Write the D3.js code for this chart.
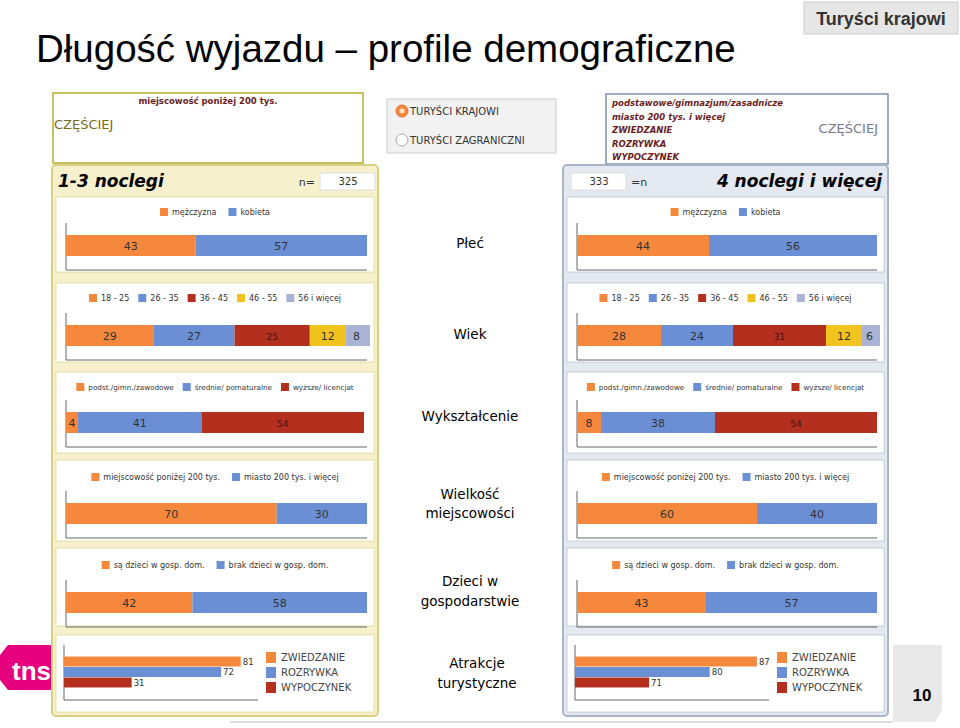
<!DOCTYPE html><html><head><meta charset="utf-8"><script src="https://cdn.jsdelivr.net/npm/d3@7"></script>
<style>body{margin:0;background:#fff}svg{font-family:"DejaVu Sans",Verdana,sans-serif}</style></head><body><svg id="c" width="960" height="728"></svg>
<script>
const sections=["Płeć","Wiek","Wykształcenie","Wielkość miejscowości","Dzieci w gospodarstwie"];
const legends=[["mężczyzna","kobieta"],["18 - 25","26 - 35","36 - 45","46 - 55","56 i więcej"],["podst./gimn./zawodowe","średnie/ pomaturalne","wyższe/ licencjat"],["miejscowość poniżej 200 tys.","miasto 200 tys. i więcej"],["są dzieci w gosp. dom.","brak dzieci w gosp. dom."]];
const shortVals=[[43,57],[29,27,25,12,8],[4,41,54],[70,30],[42,58]];
const longVals=[[44,56],[28,24,31,12,6],[8,38,54],[60,40],[43,57]];
const attrCats=["ZWIEDZANIE","ROZRYWKA","WYPOCZYNEK"];
const attrShort=[81,72,31];
const attrLong=[87,80,71];
const nShort=325,nLong=333;
const colors=["#f5883c","#6a8fd4","#b3301e","#f0c31e","#a9b3d6"];
const svg=d3.select("#c");
svg.append("text").attr("x",36).attr("y",62).attr("font-family","Liberation Sans,Arial").attr("font-size",38.5).text("Długość wyjazdu – profile demograficzne");
svg.append("rect").attr("x",804).attr("y",2).attr("width",154).attr("height",32).attr("fill","#e6e6e6").attr("stroke","#ccc");
svg.append("text").attr("x",881).attr("y",25).attr("text-anchor","middle").attr("font-family","Liberation Sans,Arial").attr("font-weight","bold").attr("font-size",18).attr("fill","#333").text("Turyści krajowi");
svg.append("path").attr("d","M8,645 L52,645 L52,690 L8,690 L0,680 L0,655Z").attr("fill","#e6007e");
svg.append("text").attr("x",12).attr("y",680).attr("fill","#fff").attr("font-family","Liberation Sans,Arial").attr("font-weight","bold").attr("font-size",26).text("tns");
svg.append("path").attr("d","M893,645 L942,645 L942,710 L935,722 L893,722Z").attr("fill","#e8e8e8");
svg.append("text").attr("x",922).attr("y",701).attr("text-anchor","middle").attr("font-family","Liberation Sans,Arial").attr("font-weight","bold").attr("font-size",17).text("10");
svg.append("line").attr("x1",230).attr("x2",893).attr("y1",722).attr("y2",722).attr("stroke","#ddd").attr("stroke-width",2);
const lb=svg.append("g");
lb.append("rect").attr("x",53).attr("y",93).attr("width",310).attr("height",70).attr("fill","#fff").attr("stroke","#c8c060").attr("stroke-width",2);
lb.append("text").attr("x",208).attr("y",104).attr("text-anchor","middle").attr("font-size",8.5).attr("font-weight","bold").attr("fill","#6b1d1d").text("miejscowość poniżej 200 tys.");
lb.append("text").attr("x",54).attr("y",129).attr("font-size",13).attr("fill","#7a6a1a").text("CZĘŚCIEJ");
const rb=svg.append("g");
rb.append("rect").attr("x",606).attr("y",94).attr("width",282).attr("height",70).attr("fill","#fff").attr("stroke","#8090b0").attr("stroke-width",1.5);
["podstawowe/gimnazjum/zasadnicze","miasto 200 tys. i więcej","ZWIEDZANIE","ROZRYWKA","WYPOCZYNEK"].forEach((t,i)=>rb.append("text").attr("x",612).attr("y",106+i*13.5).attr("font-size",8.5).attr("font-style","italic").attr("font-weight","bold").attr("fill","#6b1d1d").text(t));
rb.append("text").attr("x",878).attr("y",133).attr("text-anchor","end").attr("font-size",13).attr("fill","#778").text("CZĘŚCIEJ");
const mb=svg.append("g");
mb.append("rect").attr("x",387).attr("y",99).attr("width",169).attr("height",54).attr("fill","#f2f2f2").attr("stroke","#ccc");
[["TURYŚCI KRAJOWI",111,true],["TURYŚCI ZAGRANICZNI",140,false]].forEach(([t,y,on])=>{
 mb.append("circle").attr("cx",402).attr("cy",y).attr("r",6).attr("fill",on?"#f5883c":"#fff").attr("stroke",on?"#e07030":"#aaa");
 if(on)mb.append("circle").attr("cx",402).attr("cy",y).attr("r",2.5).attr("fill","#fde0c8");
 mb.append("text").attr("x",410).attr("y",y+4).attr("font-size",10).attr("fill","#333").text(t);});
const centerLbl=[[243],[334],[416],[494,513],[581,601]];
const cl=[["Płeć"],["Wiek"],["Wykształcenie"],["Wielkość","miejscowości"],["Dzieci w","gospodarstwie"]];
cl.forEach((ls,i)=>ls.forEach((t,j)=>svg.append("text").attr("x",470).attr("y",centerLbl[i][j]+5).attr("text-anchor","middle").attr("font-size",13.5).text(t)));
["Atrakcje","turystyczne"].forEach((t,j)=>svg.append("text").attr("x",477).attr("y",668+j*20).attr("text-anchor","middle").attr("font-size",13.5).text(t));
const subY=[[197,272],[283,362],[372,453],[460,541],[548,626],[635,712]];
const barY=[235,325,412,503,592];
const legY=[212,298,387,477,565];
function panel(x0,w,border,fill,vals,attr,title,n,right,dom){
 const g=svg.append("g");
 g.append("rect").attr("x",x0).attr("y",165).attr("width",w).attr("height",551).attr("rx",4).attr("fill",fill).attr("stroke",border).attr("stroke-width",2);
 g.append("text").attr("x",right?x0+w-6:x0+6).attr("y",187).attr("text-anchor",right?"end":"start").attr("font-size",17).attr("font-weight","bold").attr("font-style","italic").text(title);
 const nx=right?x0+8:x0+w-58;
 g.append("rect").attr("x",nx).attr("y",173).attr("width",55).attr("height",17).attr("fill","#fff").attr("stroke","#ddd");
 g.append("text").attr("x",nx+28).attr("y",185).attr("text-anchor","middle").attr("font-size",10).attr("fill","#333").text(n);
 g.append("text").attr("x",right?nx+60:nx-5).attr("y",186).attr("text-anchor",right?"start":"end").attr("font-size",11).attr("fill","#333").text(right?"=n":"n=");
 subY.forEach(([a,b])=>g.append("rect").attr("x",x0+4).attr("y",a).attr("width",w-8).attr("height",b-a).attr("fill","#fff").attr("stroke",border).attr("stroke-opacity",.6));
 const bx0=x0+14,bx1=x0+w-11;
 const x=d3.scaleLinear().domain([0,100]).range([bx0,bx1]);
 vals.forEach((v,i)=>{
  let cum=0;const segs=v.map(d=>{const s={a:cum,b:cum+d,d};cum+=d;return s;});
  const y=barY[i];
  g.append("line").attr("x1",bx0).attr("x2",bx0).attr("y1",y-12).attr("y2",y+35).attr("stroke","#666");
  g.append("line").attr("x1",bx0).attr("x2",bx1).attr("y1",y+35).attr("y2",y+35).attr("stroke","#666");
  segs.forEach((s,k)=>{
   g.append("rect").attr("x",x(s.a)).attr("y",y).attr("width",x(s.b)-x(s.a)).attr("height",21).attr("fill",colors[k]);
   g.append("text").attr("x",(x(s.a)+x(Math.min(s.b,100)))/2).attr("y",y+15).attr("text-anchor","middle").attr("font-size",k==2&&v.length>2?9:11).attr("fill",k==2?"#4a1010":"#333").text(s.d);});
  const items=legends[i],fs=legends[i].length==3?7.2:8;
  const lg=g.append("g");let lx=0;
  items.forEach((t,k)=>{lg.append("rect").attr("x",lx).attr("y",legY[i]-4).attr("width",8).attr("height",8).attr("fill",colors[k]);
   const tt=lg.append("text").attr("x",lx+12).attr("y",legY[i]+3).attr("font-size",fs).attr("fill","#333").text(t);
   lx+=12+tt.node().getComputedTextLength()+(items.length>2?9:12);});
  const tot=lx-(items.length>2?9:12);
  lg.attr("transform",`translate(${x0+w/2-tot/2},0)`);
 });
 const ax=d3.scaleLinear().domain(dom).range([bx0-2,bx0+190]);
 const ay=d3.scaleBand().domain(attrCats).range([656,688]).padding(0.05);
 g.append("line").attr("x1",bx0-2).attr("x2",bx0-2).attr("y1",645).attr("y2",700).attr("stroke","#666");
 g.append("line").attr("x1",bx0-2).attr("x2",bx0+192).attr("y1",700).attr("y2",700).attr("stroke","#666");
 attr.forEach((v,k)=>{
  g.append("rect").attr("x",ax(dom[0])).attr("y",ay(attrCats[k])).attr("width",ax(v)-ax(dom[0])).attr("height",ay.bandwidth()).attr("fill",colors[k]);
  g.append("text").attr("x",ax(v)+2).attr("y",ay(attrCats[k])+8).attr("font-size",8.5).attr("fill","#333").text(v);
  g.append("rect").attr("x",x0+214).attr("y",652+k*15).attr("width",10).attr("height",11).attr("fill",colors[k]);
  g.append("text").attr("x",x0+229).attr("y",661+k*15).attr("font-size",10).attr("fill","#444").text(attrCats[k]);
 });
}
panel(52,326,"#d8cf80","#f6f0cc",shortVals,attrShort,"1-3 noclegi",nShort,false,[0,88]);
panel(563,325,"#aab4c8","#e4e8f0",longVals,attrLong,"4 noclegi i więcej",nLong,true,[60,88.5]);
</script></body></html>
